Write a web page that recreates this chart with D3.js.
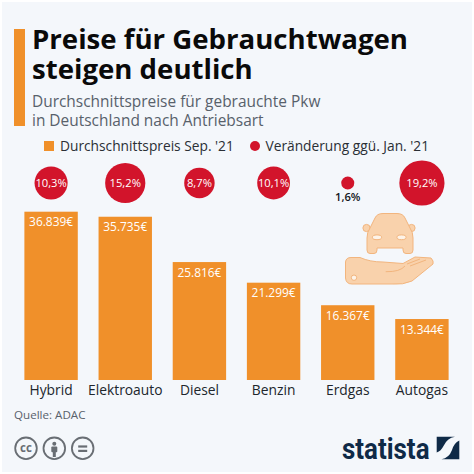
<!DOCTYPE html>
<html><head><meta charset="utf-8">
<script src="https://cdn.jsdelivr.net/npm/d3@7"></script>
<style>html,body{margin:0;padding:0;background:#fff}svg{display:block}text{font-family:"Open Sans",sans-serif}</style>
</head><body><svg id="c" width="474" height="474"></svg>
<script>
const categories=["Hybrid","Elektroauto","Diesel","Benzin","Erdgas","Autogas"];
const prices=[36839,35735,25816,21299,16367,13344];
const changes=[10.3,15.2,8.7,10.1,1.6,19.2];
const titleLines=["Preise für Gebrauchtwagen","steigen deutlich"];
const subtitleLines=["Durchschnittspreise für gebrauchte Pkw","in Deutschland nach Antriebsart"];
const legendLabels=["Durchschnittspreis Sep. '21","Veränderung ggü. Jan. '21"];
const source="Quelle: ADAC";
const brand="statista";

const ORANGE="#f0902a",RED="#d2142b",NAVY="#0f2a47",GREY="#58616b",ICON="#696e74";
const svg=d3.select("#c");
svg.append("rect").attr("x",2).attr("y",2).attr("width",470).attr("height",470).attr("fill","#f4f7fb");
svg.append("rect").attr("x",14).attr("y",29).attr("width",11).attr("height",97).attr("fill",ORANGE);

svg.selectAll(".t").data(titleLines).join("text").attr("class","t").attr("x",32).attr("y",(d,i)=>48.5+i*30)
  .attr("font-size",27.6).attr("font-weight",700).attr("fill","#0a0a0a").text(d=>d);
svg.selectAll(".s").data(subtitleLines).join("text").attr("class","s").attr("x",32).attr("y",(d,i)=>107+i*19)
  .attr("font-size",15.45).attr("fill",GREY).text(d=>d);

svg.append("rect").attr("x",44).attr("y",141).attr("width",10).attr("height",10).attr("fill",ORANGE);
svg.append("text").attr("x",60).attr("y",151).attr("font-size",13.75).attr("fill","#2a2f35").text(legendLabels[0]);
svg.append("circle").attr("cx",255).attr("cy",146).attr("r",5).attr("fill",RED);
svg.append("text").attr("x",265.5).attr("y",151).attr("font-size",13.75).attr("fill","#2a2f35").text(legendLabels[1]);

const x=d3.scaleBand().domain(categories).range([14,459]).paddingInner(0.28).paddingOuter(0.14);
const y=d3.scaleLinear().domain([0,36839]).range([380,211.7]);
const r=d3.scaleSqrt().domain([0,19.2]).range([0,22.6]);
const g=svg.append("g");
g.selectAll("rect").data(categories).join("rect")
  .attr("x",d=>x(d)).attr("width",x.bandwidth())
  .attr("y",(d,i)=>y(prices[i])).attr("height",(d,i)=>380-y(prices[i])).attr("fill",ORANGE);
g.selectAll(".v").data(categories).join("text").attr("class","v").attr("x",d=>x(d)+x.bandwidth()/2)
  .attr("y",(d,i)=>y(prices[i])+14.5).attr("text-anchor","middle").attr("font-size",11.9)
  .attr("fill","#fff").text((d,i)=>d3.format(",")(prices[i]).replace(/,/g,".")+"€");
const axis=d3.axisBottom(x).tickSize(0).tickPadding(5);
const ax=svg.append("g").attr("transform","translate(0,380)").call(axis);
ax.select(".domain").remove();
ax.selectAll("text").attr("font-size",13.8).attr("fill","#20262c").attr("font-family",'"Open Sans",sans-serif');

const cy=183;
svg.selectAll("circle.b").data(categories).join("circle").attr("class","b")
  .attr("cx",d=>x(d)+x.bandwidth()/2).attr("cy",cy).attr("r",(d,i)=>r(changes[i])).attr("fill",RED);
const fmt=v=>v.toFixed(1).replace(".",",")+"%";
svg.selectAll("text.c").data(categories).join("text").attr("class","c")
  .attr("x",d=>x(d)+x.bandwidth()/2).attr("y",(d,i)=>changes[i]<3?201:cy+4.2)
  .attr("text-anchor","middle").attr("font-size",11.2)
  .attr("font-weight",(d,i)=>changes[i]<3?600:400)
  .attr("fill",(d,i)=>changes[i]<3?"#14181c":"#fff").text((d,i)=>fmt(changes[i]));

// car-in-hand icon
const ic=svg.append("g").attr("fill","#f9d2ac").attr("stroke","#f2b57e").attr("stroke-width",1).attr("stroke-linejoin","round");
ic.append("circle").attr("cx",366.5).attr("cy",228).attr("r",3.6);
ic.append("circle").attr("cx",411.5).attr("cy",228).attr("r",3.6);
ic.append("path").attr("d","M370 228 L375 218 Q377 213.5 383 213.5 L397 213.5 Q403 213.5 405 218 L410 228 Q413 232 413 238 L413 250 Q413 253.5 410 253.5 L406 253.5 Q403 253.5 403 250 L403 248 L377 248 L377 250 Q377 253.5 374 253.5 L370 253.5 Q367 253.5 367 250 L367 238 Q367 232 370 228 Z");
ic.append("ellipse").attr("cx",377).attr("cy",237.3).attr("rx",4.6).attr("ry",2.4).attr("fill","#fdf3e8");
ic.append("ellipse").attr("cx",401.5).attr("cy",237.3).attr("rx",4.6).attr("ry",2.4).attr("fill","#fdf3e8");
ic.append("path").attr("d","M345.5 262 Q346 257.5 351 257.5 L360 257.5 Q370 262 383 262 L403 263.5 L415 257 L431 258 Q434 261 433 264 L412 281 Q403 285 392 284 L352 284 Q346 284 345.5 278 Z");
ic.append("path").attr("fill","none").attr("d","M385.7 271.7 Q400 272 405 266 M407 264 L420 259 M410 266 L426 260");
ic.append("circle").attr("cx",354).attr("cy",277.7).attr("r",2.7).attr("fill","#fdf3e8");

// footer
svg.append("text").attr("x",14).attr("y",419).attr("font-size",11.6).attr("fill",GREY).text(source);
const cc=svg.append("g").attr("fill","none").attr("stroke",ICON).attr("stroke-width",1.8);
[26,54.3,82.7].forEach(cx=>cc.append("circle").attr("cx",cx).attr("cy",448.3).attr("r",10.8));
svg.append("text").attr("x",26).attr("y",452).attr("text-anchor","middle").attr("font-size",11.5).attr("font-weight",700).attr("fill",ICON).text("cc");
svg.append("circle").attr("cx",54.3).attr("cy",443.7).attr("r",2).attr("fill",ICON);
svg.append("rect").attr("x",51.3).attr("y",446.5).attr("width",6).attr("height",5.8).attr("rx",1).attr("fill",ICON);
svg.append("rect").attr("x",52.8).attr("y",452).attr("width",3).attr("height",5).attr("fill",ICON);
svg.append("rect").attr("x",78.2).attr("y",445.4).attr("width",9).attr("height",2.2).attr("fill",ICON);
svg.append("rect").attr("x",78.2).attr("y",449.8).attr("width",9).attr("height",2.2).attr("fill",ICON);
svg.append("text").attr("x",342).attr("y",459).style("font-family","Roboto")
  .attr("font-size",30).attr("font-weight",700).attr("fill",NAVY)
  .attr("textLength",87.5).attr("lengthAdjust","spacingAndGlyphs").text(brand);
svg.append("path").attr("fill",NAVY).attr("d","M436.7 436.7 H455 Q447 438 443.5 446 Q441 451 436.7 452.5 Z M459.3 440.5 V459.3 H441.5 Q449 458 452 450 Q454 443 459.3 440.5 Z");
</script></body></html>
